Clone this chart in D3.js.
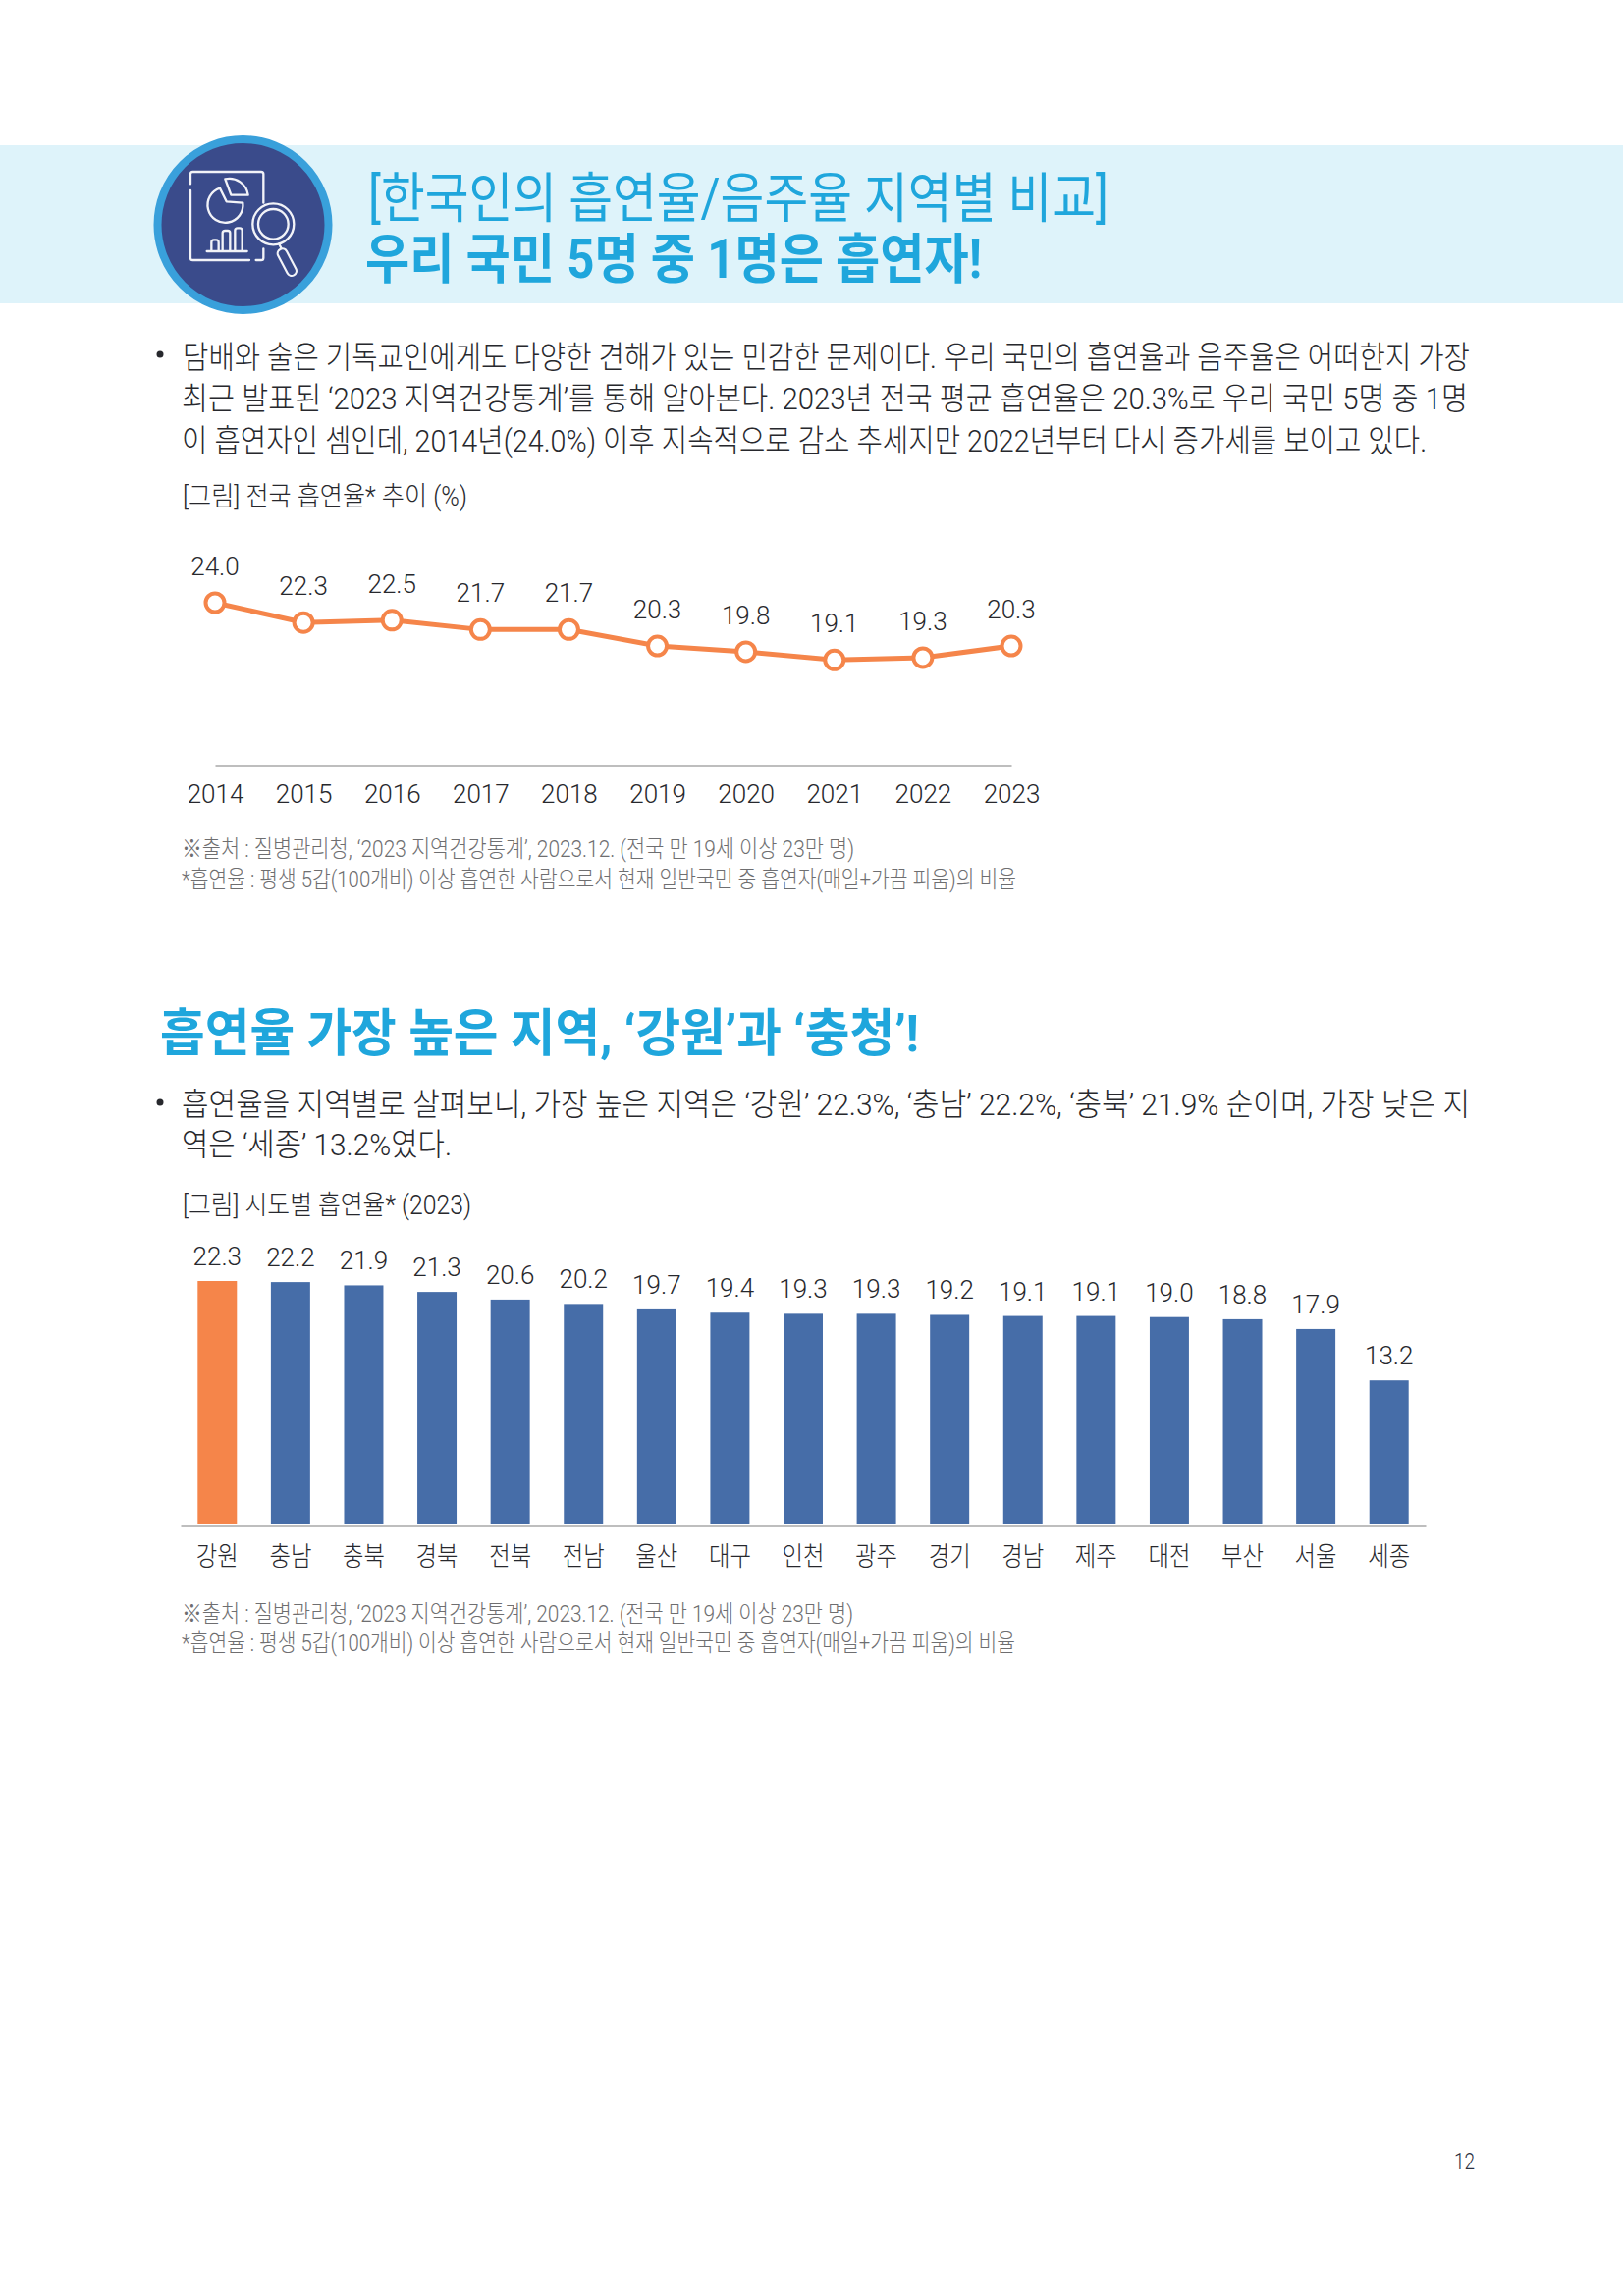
<!DOCTYPE html>
<html lang="ko">
<head>
<meta charset="utf-8">
<script src="https://cdn.jsdelivr.net/npm/d3@7"></script>
<style>
  html, body { margin: 0; padding: 0; background: #fff; }
  text { font-family: "Roboto", "Noto Sans CJK KR", sans-serif; }
</style>
</head>
<body>
<div id="page"></div>
<script>
var years = ["2014", "2015", "2016", "2017", "2018", "2019", "2020", "2021", "2022", "2023"];
var nationalRates = [24.0, 22.3, 22.5, 21.7, 21.7, 20.3, 19.8, 19.1, 19.3, 20.3];

var regions = ["강원", "충남", "충북", "경북", "전북", "전남", "울산", "대구", "인천", "광주", "경기", "경남", "제주", "대전", "부산", "서울", "세종"];
var regionRates = [22.3, 22.2, 21.9, 21.3, 20.6, 20.2, 19.7, 19.4, 19.3, 19.3, 19.2, 19.1, 19.1, 19.0, 18.8, 17.9, 13.2];

var source = "※출처 : 질병관리청, ‘2023 지역건강통계’, 2023.12. (전국 만 19세 이상 23만 명)";
var note = "*흡연율 : 평생 5갑(100개비) 이상 흡연한 사람으로서 현재 일반국민 중 흡연자(매일+가끔 피움)의 비율";

var W = 1653, H = 2339;
var orange = "#f5854a", blue = "#466da8", sky = "#1fa6dc", ink = "#27282d", gray = "#6e6e70";

var svg = d3.select("#page").append("svg")
  .attr("width", W).attr("height", H)
  .attr("viewBox", "0 0 " + W + " " + H)
  .style("display", "block");

// text squeezed to the measured width, the page font is a condensed one
function label(x, y, str, size, fill, width, weight) {
  var t = svg.append("text")
    .attr("x", x).attr("y", y)
    .attr("font-size", size)
    .attr("fill", fill)
    .attr("font-weight", weight || 300)
    .text(str);
  if (width) t.attr("textLength", width).attr("lengthAdjust", "spacingAndGlyphs");
  return t;
}

// header
svg.append("rect").attr("x", 0).attr("y", 148).attr("width", W).attr("height", 161).attr("fill", "#def3fa");
svg.append("circle").attr("cx", 247.5).attr("cy", 229).attr("r", 87)
  .attr("fill", "#3a4b8b").attr("stroke", "#39a0db").attr("stroke-width", 8);

// icon, drawn in its own 480 box
var icon = svg.append("g")
  .attr("transform", "translate(170,150) scale(0.3333)")
  .attr("fill", "none").attr("stroke", "#f2f3f8").attr("stroke-width", 7)
  .attr("stroke-linecap", "round").attr("stroke-linejoin", "round");
icon.append("path").attr("d", "M72 112V82q0-7 7-7H288q7 0 7 7V170M295 310V338q0-7 0 0q0 7-7 7H272M252 345H79q-7 0-7-7V132");
icon.append("path").attr("d", "M162 125A54 54 0 1 0 232 170L182 166Z");
icon.append("path").attr("d", "M178 97A58 58 0 0 1 248 146L196 146Z");
icon.append("path").attr("d", "M122 318H245M136 314V290q0-7 8-7h6q8 0 8 7V314M170 314V262q0-7 8-7h8q7 0 7 7V314M208 314V254q0-7 8-7h6q8 0 8 7V314");
icon.append("circle").attr("cx", 325).attr("cy", 235).attr("r", 63);
icon.append("circle").attr("cx", 325).attr("cy", 235).attr("r", 46);
icon.append("path").attr("d", "M343 296L351 312");
icon.append("line").attr("x1", 353).attr("y1", 325).attr("x2", 381).attr("y2", 378)
  .attr("stroke-width", 36);
icon.append("line").attr("x1", 353).attr("y1", 325).attr("x2", 381).attr("y2", 378)
  .attr("stroke", "#3a4b8b").attr("stroke-width", 23);

label(375, 221, "[한국인의 흡연율/음주율 지역별 비교]", 55, sky, 754, 400);
label(372, 283, "우리 국민 5명 중 1명은 흡연자!", 55, sky, 628, 700);

// intro paragraph
svg.append("circle").attr("cx", 163).attr("cy", 361).attr("r", 3.5).attr("fill", ink);
label(186, 375, "담배와 술은 기독교인에게도 다양한 견해가 있는 민감한 문제이다. 우리 국민의 흡연율과 음주율은 어떠한지 가장", 32, ink, 1311);
label(185, 417, "최근 발표된 ‘2023 지역건강통계’를 통해 알아본다. 2023년 전국 평균 흡연율은 20.3%로 우리 국민 5명 중 1명", 32, ink, 1310);
label(185, 460, "이 흡연자인 셈인데, 2014년(24.0%) 이후 지속적으로 감소 추세지만 2022년부터 다시 증가세를 보이고 있다.", 32, ink, 1268);

label(186, 515, "[그림] 전국 흡연율* 추이 (%)", 27, ink, 290);

// line chart
var xYear = d3.scalePoint().domain(years).range([219, 1030]);
var yRate = d3.scaleLinear().domain([10, 24]).range([780.6, 614]);

var lineAxis = svg.append("g")
  .attr("transform", "translate(0,779.5)")
  .call(d3.axisBottom(xYear).tickSize(0).tickSizeOuter(0));
lineAxis.select(".domain").attr("stroke", "#a8a8a8").attr("stroke-width", 1.5);
lineAxis.selectAll("text")
  .attr("y", 38.5).attr("dy", 0)
  .attr("font-family", "Roboto").attr("font-weight", 300).attr("font-size", 26).attr("fill", ink);

var line = d3.line()
  .x(function(d, i) { return xYear(years[i]); })
  .y(function(d) { return yRate(d); });

svg.append("path").datum(nationalRates)
  .attr("d", line)
  .attr("fill", "none").attr("stroke", orange).attr("stroke-width", 5);

svg.selectAll("circle.dot").data(nationalRates).enter().append("circle")
  .attr("class", "dot")
  .attr("cx", function(d, i) { return xYear(years[i]); })
  .attr("cy", function(d) { return yRate(d); })
  .attr("r", 9.5)
  .attr("fill", "#fff").attr("stroke", orange).attr("stroke-width", 4);

svg.selectAll("text.lineval").data(nationalRates).enter().append("text")
  .attr("class", "lineval")
  .attr("x", function(d, i) { return xYear(years[i]); })
  .attr("y", function(d) { return yRate(d) - 28; })
  .attr("text-anchor", "middle")
  .attr("font-weight", 300).attr("font-size", 26).attr("fill", ink)
  .text(function(d) { return d.toFixed(1); });

label(185, 873, source, 24, gray, 685);
label(185, 904, note, 24, gray, 850);

// second section
label(163, 1071, "흡연율 가장 높은 지역, ‘강원’과 ‘충청’!", 52, sky, 773, 700);

svg.append("circle").attr("cx", 163).attr("cy", 1123).attr("r", 3.5).attr("fill", ink);
label(185, 1135.5, "흡연율을 지역별로 살펴보니, 가장 높은 지역은 ‘강원’ 22.3%, ‘충남’ 22.2%, ‘충북’ 21.9% 순이며, 가장 낮은 지", 32, ink, 1312);
label(185, 1177, "역은 ‘세종’ 13.2%였다.", 32, ink, 275);

label(186, 1237, "[그림] 시도별 흡연율* (2023)", 27, ink, 294);

// bar chart
var xRegion = d3.scaleBand().domain(regions).range([184, 1452]).paddingInner(0.464).paddingOuter(0.232);
var yRegion = d3.scaleLinear().domain([0, 22.3]).range([1553, 1305]);

svg.selectAll("rect.bar").data(regionRates).enter().append("rect")
  .attr("class", "bar")
  .attr("x", function(d, i) { return xRegion(regions[i]); })
  .attr("y", function(d) { return yRegion(d); })
  .attr("width", xRegion.bandwidth())
  .attr("height", function(d) { return yRegion(0) - yRegion(d); })
  .attr("fill", function(d, i) { return i === 0 ? orange : blue; });

svg.selectAll("text.barval").data(regionRates).enter().append("text")
  .attr("class", "barval")
  .attr("x", function(d, i) { return xRegion(regions[i]) + xRegion.bandwidth() / 2; })
  .attr("y", function(d) { return yRegion(d) - 16; })
  .attr("text-anchor", "middle")
  .attr("font-weight", 300).attr("font-size", 26).attr("fill", ink)
  .text(function(d) { return d.toFixed(1); });

var barAxis = svg.append("g")
  .attr("transform", "translate(0,1554.5)")
  .call(d3.axisBottom(xRegion).tickSize(0).tickSizeOuter(0));
barAxis.select(".domain").attr("stroke", "#a8a8a8").attr("stroke-width", 1.5);
barAxis.selectAll("text")
  .attr("y", 40.5).attr("dy", 0)
  .attr("font-family", "Noto Sans CJK KR").attr("font-weight", 300)
  .attr("font-size", 27).attr("fill", ink)
  .attr("textLength", 43).attr("lengthAdjust", "spacingAndGlyphs");

label(185, 1652, source, 24, gray, 684);
label(185, 1682, note, 24, gray, 849);

label(1481, 2210, "12", 23, "#2b3040", 21);
</script>
</body>
</html>
